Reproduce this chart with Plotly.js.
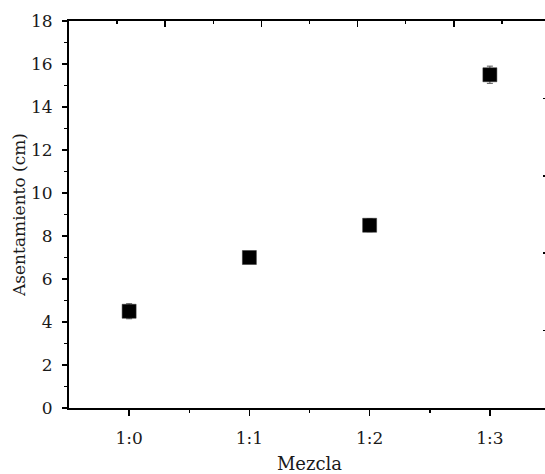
<!DOCTYPE html>
<html>
<head>
<meta charset="utf-8">
<script src="https://cdn.plot.ly/plotly-3.0.1.min.js"></script>
<style>html,body{margin:0;padding:0;overflow:hidden;background:#fff;}</style>
</head>
<body>
<div id="chart" style="width:550px;height:474px;"></div>
<script>
const categories = ['1:0', '1:1', '1:2', '1:3'];
const asentamiento = [4.5, 7.0, 8.5, 15.5];
const errores = [0.35, 0.15, 0.3, 0.4];

const xpos = categories.map((c, i) => i);
const serif = 'DejaVu Serif, Liberation Serif, serif';

const traces = [
  {
    x: xpos, y: asentamiento, type: 'scatter', mode: 'markers',
    marker: {symbol: 'square', size: 14, color: '#000', line: {color: '#333', width: 0.5}},
    error_y: {type: 'data', array: errores, visible: true, color: '#555', thickness: 1, width: 3},
    showlegend: false, hoverinfo: 'x+y'
  },
  {
    x: [0], y: [0], xaxis: 'x2', yaxis: 'y2', type: 'scatter', mode: 'markers',
    marker: {opacity: 0}, showlegend: false, hoverinfo: 'skip'
  }
];

const layout = {
  width: 550, height: 474,
  margin: {l: 69, r: 0, t: 21, b: 66},
  paper_bgcolor: '#fff', plot_bgcolor: '#fff',
  font: {family: serif, size: 16, color: '#1a1a1a'},
  showlegend: false,
  xaxis: {
    range: [-0.5, 3.5], tickmode: 'array', tickvals: xpos, ticktext: categories,
    showline: true, linecolor: '#000', linewidth: 2, mirror: false,
    ticks: 'outside', ticklen: 6, tickwidth: 1.5, tickcolor: '#000',
    ticklabelstandoff: 8,
    minor: {tickmode: 'array', tickvals: [0.5, 1.5, 2.5], ticks: 'outside', ticklen: 3, tickwidth: 1.5, tickcolor: '#000'},
    showgrid: false, zeroline: false,
    tickfont: {family: serif, size: 17},
    title: {text: 'Mezcla', font: {family: serif, size: 18}, standoff: 10}
  },
  yaxis: {
    range: [0, 18], tickmode: 'linear', tick0: 0, dtick: 2,
    showline: true, linecolor: '#000', linewidth: 2,
    ticks: 'outside', ticklen: 5, tickwidth: 1.5, tickcolor: '#000',
    ticklabelstandoff: 6,
    minor: {dtick: 1, ticks: 'outside', ticklen: 3, tickwidth: 1.5, tickcolor: '#000'},
    showgrid: false, zeroline: false,
    tickfont: {family: serif, size: 17},
    title: {text: 'Asentamiento (cm)', font: {family: serif, size: 17}, standoff: 1}
  },
  xaxis2: {
    overlaying: 'x', side: 'top', range: [-0.5, 3.5],
    tickmode: 'array', tickvals: [0.3, 1.1, 1.9, 2.7],
    showticklabels: false, showline: true, linecolor: '#000', linewidth: 2,
    ticks: 'inside', ticklen: 6, tickwidth: 1.5, tickcolor: '#000',
    minor: {tickmode: 'array', tickvals: [-0.1, 0.7, 1.5, 2.3, 3.1], ticks: 'inside', ticklen: 3, tickwidth: 1.5, tickcolor: '#000'},
    showgrid: false, zeroline: false
  },
  yaxis2: {
    overlaying: 'y', side: 'right', range: [0, 18],
    tickmode: 'array', tickvals: [3.6, 7.2, 10.8, 14.4],
    showticklabels: false, showline: false,
    ticks: 'inside', ticklen: 7, tickwidth: 1.5, tickcolor: '#000',
    showgrid: false, zeroline: false
  }
};

Plotly.newPlot('chart', traces, layout, {displayModeBar: false, staticPlot: true});
</script>
</body>
</html>
